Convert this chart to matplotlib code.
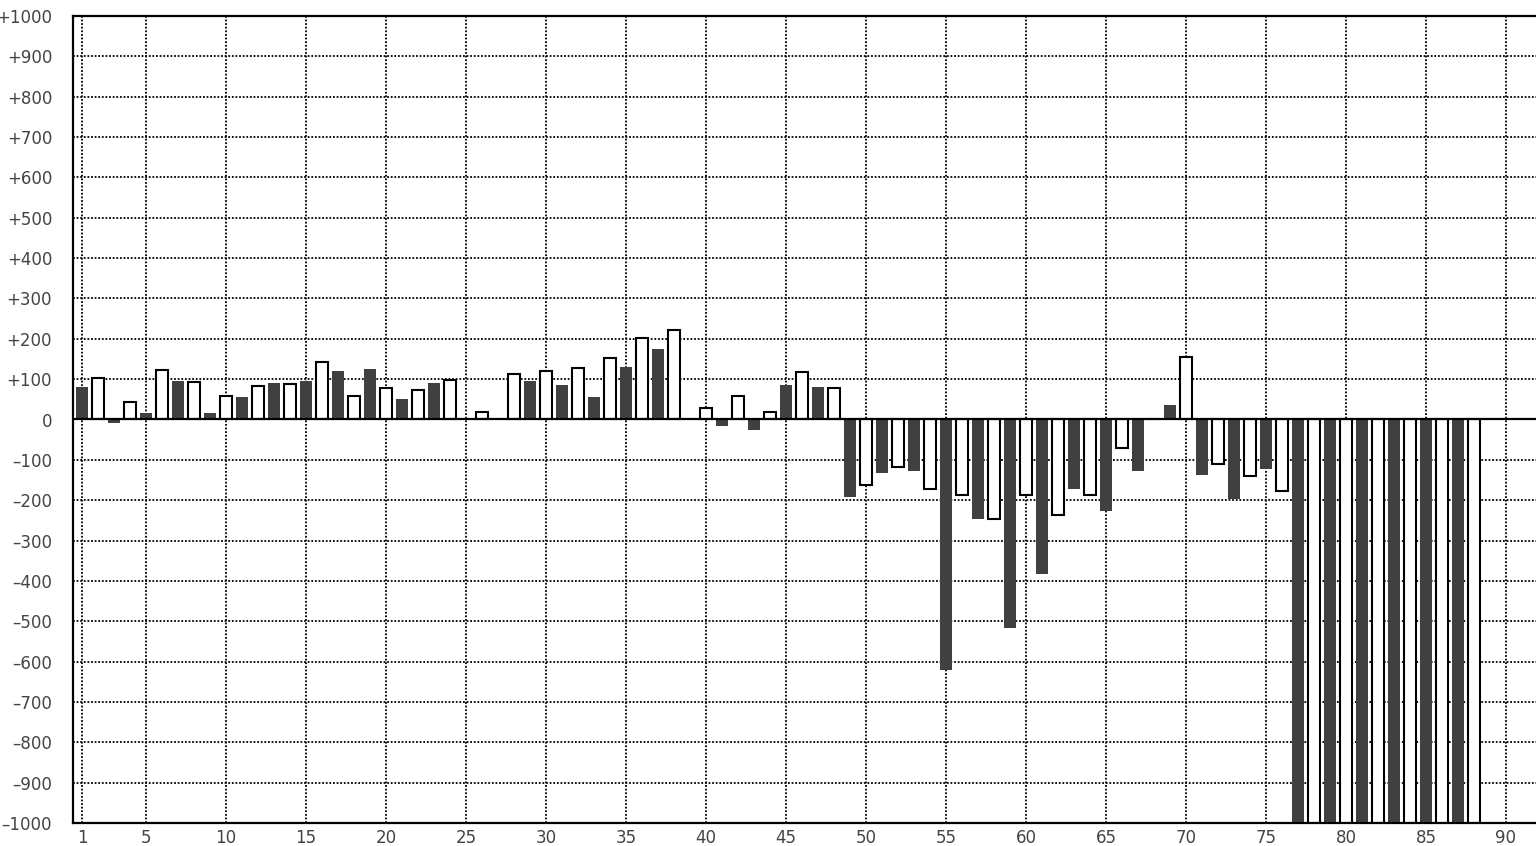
import matplotlib

matplotlib.use("Agg")
import matplotlib.pyplot as plt
import numpy as np

# odd positions (1, 3, ..., 87) drawn dark, even positions (2, 4, ..., 88) drawn white
dark_positions = list(range(1, 88, 2))
dark_values = [
    80, -8, 15, 96, 15, 55, 90, 96, 120, 125,
    50, 90, 0, 0, 95, 85, 55, 130, 175, 0,
    -15, -25, 85, 80, -192, -132, -127, -620, -247, -517,
    -383, -172, -227, -127, 37, -137, -197, -122,
    -1000, -1000, -1000, -1000, -1000, -1000,
]
light_positions = list(range(2, 89, 2))
light_values = [
    103, 44, 123, 94, 59, 83, 89, 143, 59, 79,
    74, 98, 19, 114, 119, 128, 153, 203, 223, 28,
    58, 18, 118, 78, -162, -117, -172, -186, -246, -187,
    -236, -186, -71, 0, 155, -111, -141, -176,
    -1000, -1000, -1000, -1000, -1000, -1000,
]
x_ticks = [1, 5, 10, 15, 20, 25, 30, 35, 40, 45, 50, 55, 60, 65, 70, 75, 80, 85, 90]
y_ticks = list(range(-1000, 1001, 100))


def y_label(v):
    if v > 0:
        return f"+{v}"
    if v < 0:
        return f"\u2013{-v}"
    return "0"


W, H = 1536, 846
fig = plt.figure(figsize=(W / 100, H / 100), dpi=100)
ax = fig.add_axes([73 / W, 23 / H, (W - 73) / W, 807 / H])

dark = "#404040"
ax.bar(dark_positions, dark_values, width=0.75, color=dark, linewidth=0, zorder=2)
ax.bar(light_positions, light_values, width=0.72, color="white", edgecolor="black",
       linewidth=1.5, zorder=2)
ax.axhline(0, color="black", linewidth=1.6, zorder=3)

ax.set_xlim(7 / 16, (W - 66) / 16)
ax.set_ylim(-1000, 1000)
ax.set_xticks(x_ticks)
ax.set_xticklabels([str(t) for t in x_ticks])
ax.set_yticks(y_ticks)
ax.set_yticklabels([y_label(v) for v in y_ticks])

ax.set_axisbelow(True)
ax.grid(True, color="black", linewidth=1.3, linestyle=(0, (1, 1)))
ax.tick_params(length=0, labelsize=12, labelcolor="#444444")
ax.tick_params(axis="y", pad=15)
ax.tick_params(axis="x", pad=4)

for side in ("left", "bottom", "top"):
    ax.spines[side].set_linewidth(1.6)
    ax.spines[side].set_color("black")
ax.spines["right"].set_visible(False)

fig.savefig("out.png", dpi=100)
